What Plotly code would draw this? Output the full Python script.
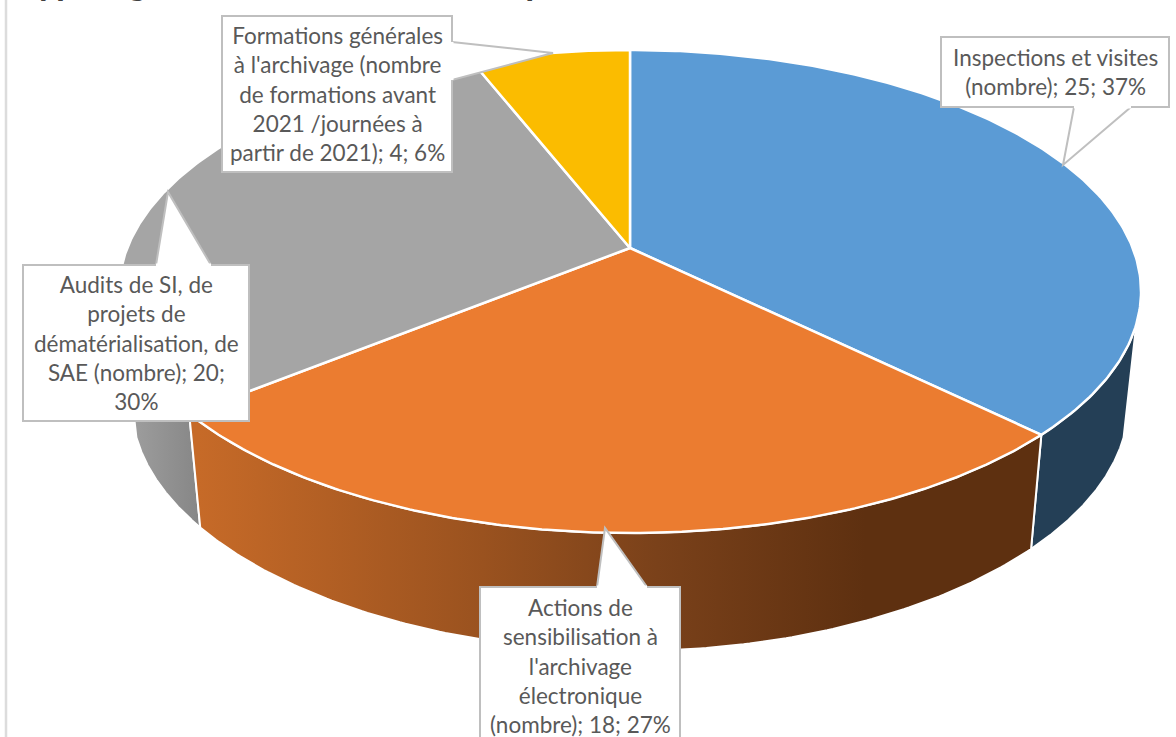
import numpy as np
import plotly.graph_objects as go

categories = [
    "Inspections et visites (nombre)",
    "Actions de sensibilisation à l'archivage électronique (nombre)",
    "Audits de SI, de projets de dématérialisation, de SAE (nombre)",
    "Formations générales à l'archivage (nombre de formations avant 2021 /journées à partir de 2021)",
]
values = [25, 18, 20, 4]
percents = [37, 27, 30, 6]
top_colors = ["#5B9BD5", "#EB7C30", "#A5A5A5", "#FBBC00"]
label_lines = [
    ["Inspections et visites", "(nombre); 25; 37%"],
    ["Actions de", "sensibilisation à", "l'archivage", "électronique", "(nombre); 18; 27%"],
    ["Audits de SI, de", "projets de", "dématérialisation, de", "SAE (nombre); 20;", "30%"],
    ["Formations générales", "à l'archivage (nombre", "de formations avant", "2021 /journées à", "partir de 2021); 4; 6%"],
]
title_text = "Typologie des actions réalisées par an"

W, H = 1176, 737
CX, CY, RX, RY, K = 630.0, 248.0, 502.7, 233.7, 0.18
DEPTH, DEPTH_FRONT, SHRINK = 113.0, 5.0, 0.975
SILHOUETTE = np.radians(108)


def top(theta):
    u, v = np.sin(theta), np.cos(theta)
    w = 1 + K * v
    return CX + RX * u / w, CY - RY * v / w


def bottom(theta):
    x, y = top(theta)
    return CX + SHRINK * (x - CX), y + DEPTH + DEPTH_FRONT * np.cos(theta) ** 4


fracs = np.cumsum([0] + values) / sum(values) * 2 * np.pi
fig = go.Figure()


def side(a, b, **kw):
    t = np.linspace(a, b, 160)
    xt, yt = top(t)
    xb, yb = bottom(t[::-1])
    fig.add_trace(go.Scatter(
        x=np.r_[xt, xb, xt[0]], y=np.r_[yt, yb, yt[0]], mode="lines", fill="toself",
        line=dict(color="white", width=2), hoverinfo="skip", showlegend=False, **kw))


# visible side walls, between the pie's silhouette tangents
side(fracs[2], 2 * np.pi - SILHOUETTE,
     fillgradient=dict(type="horizontal", start=119, stop=200,
                       colorscale=[[0, "#A2A2A2"], [1, "#868686"]]))
side(SILHOUETTE, fracs[1], fillcolor="#243F56")
side(fracs[1], fracs[2],
     fillgradient=dict(type="horizontal", start=199, stop=1032,
                       colorscale=[[0, "#C66A28"], [0.34, "#9A521F"], [0.55, "#7A411A"],
                                   [0.8, "#5E3010"], [1, "#5E3010"]]))

for i, c in enumerate(categories):
    t = np.linspace(fracs[i], fracs[i + 1], 200)
    xt, yt = top(t)
    fig.add_trace(go.Scatter(
        x=np.r_[CX, xt, CX], y=np.r_[CY, yt, CY], mode="lines", fill="toself",
        fillcolor=top_colors[i], line=dict(color="white", width=2.5),
        name=c, text=f"{c}; {values[i]}; {percents[i]}%", hoverinfo="text", showlegend=False))

# callouts: (box left, top, right, bottom), tail outline
boxes = [
    ((941, 37, 1169, 107), "M1074,107 L1063,165 L1131,107"),
    ((480, 587, 680, 745), "M597,587 L605,528 L647,587"),
    ((23, 265, 249, 421), "M156,265 L168,192 L211,265"),
    ((222, 16, 452, 172), "M452,42 L553,53 L452,80"),
]
shapes = [dict(type="line", x0=6, x1=6, y0=0, y1=H, line=dict(color="#DCDCDC", width=2.5), layer="below")]
annotations = []
for (l, t_, r, b), tail in boxes:
    path = f"M{l},{t_} L{r},{t_} L{r},{b} L{l},{b} Z"
    shapes.append(dict(type="path", path=path, fillcolor="white", line=dict(color="#BFBFBF", width=2)))
    close = tail.replace("M", "").replace("L", "").split()
    shapes.append(dict(type="path", path=tail + " Z", fillcolor="white", line=dict(color="#BFBFBF", width=2)))
    # hide the base of the tail so box and tail read as one outline
    p0, p2 = close[0].split(","), close[2].split(",")
    shapes.append(dict(type="line", x0=float(p0[0]), y0=float(p0[1]), x1=float(p2[0]), y1=float(p2[1]),
                       line=dict(color="white", width=3)))

centers = [(1055, 72), (580, 666), (136, 343), (337, 94)]
for lines, (x, y) in zip(label_lines, centers):
    annotations.append(dict(x=x, y=y, xref="x", yref="y", text="<br>".join(lines), showarrow=False,
                            align="center", font=dict(family="Lato", size=22.5, color="#595959")))
annotations.append(dict(x=16, y=5, xref="x", yref="y", xanchor="left", yanchor="bottom",
                        text=f"<b>{title_text}</b>", showarrow=False,
                        font=dict(family="Lato", size=36.5, color="#404040")))

fig.update_layout(
    width=W, height=H, margin=dict(l=0, r=0, t=0, b=0), autosize=False,
    paper_bgcolor="white", plot_bgcolor="white", showlegend=False,
    xaxis=dict(range=[0, W], visible=False, fixedrange=True),
    yaxis=dict(range=[H, 0], visible=False, fixedrange=True),
    shapes=shapes, annotations=annotations,
)
fig.write_html("out.html", post_script="document.body.style.margin='0';document.body.style.overflow='hidden';",
               config=dict(displayModeBar=False))
